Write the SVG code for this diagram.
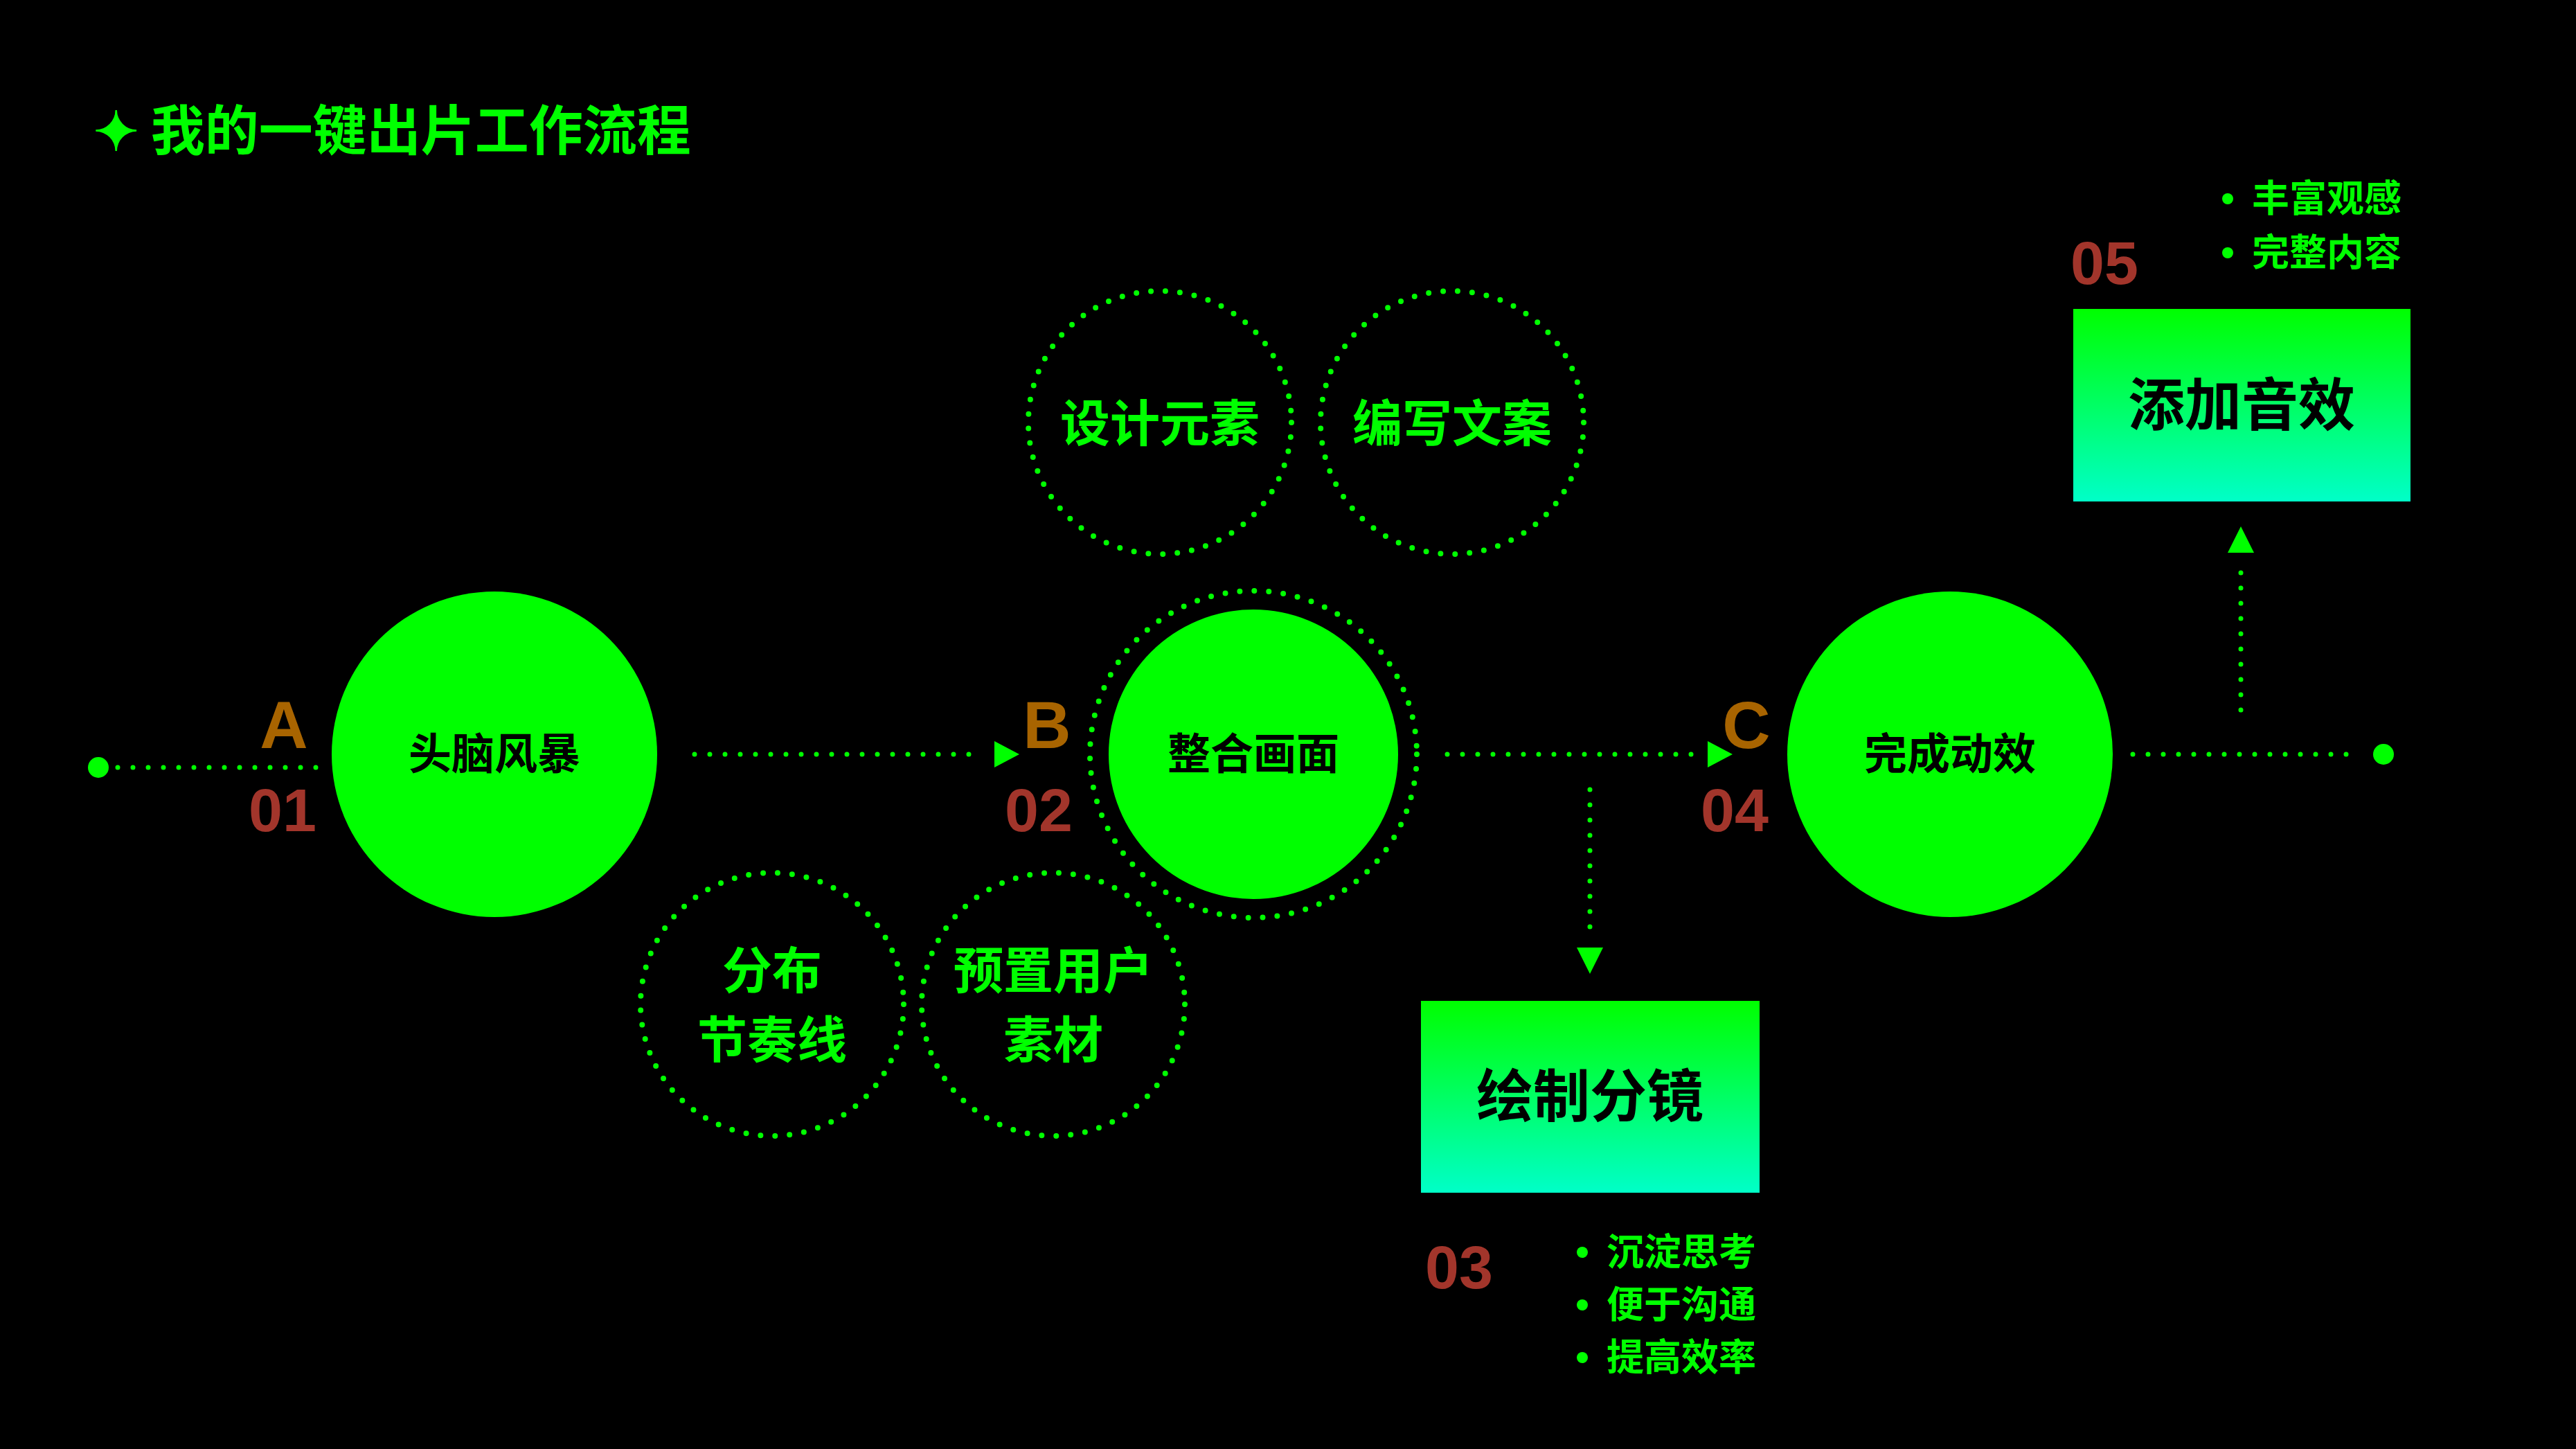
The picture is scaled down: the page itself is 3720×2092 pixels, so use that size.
<svg xmlns="http://www.w3.org/2000/svg" width="3720" height="2092" viewBox="0 0 3720 2092">
<defs>
<style>
.f{font-family:"Noto Sans CJK SC","Liberation Sans",sans-serif;font-weight:bold}
.n{font-family:"Liberation Sans",Arial,sans-serif;font-weight:bold}
.dl{stroke:#00ff00;stroke-width:7;stroke-linecap:round;stroke-dasharray:0 22;fill:none}
.dc{stroke:#00ff00;stroke-width:8;stroke-linecap:round;stroke-dasharray:0 21;fill:none}
.ct{font-size:62px;fill:#000;text-anchor:middle}
.dt{font-size:72px;fill:#00ff00;text-anchor:middle}
.bt{font-size:82px;fill:#000;text-anchor:middle}
.let{font-size:96px;fill:#a86400}
.num{font-size:88px;fill:#a2352b}
.bl{font-size:54px;fill:#00ff00}
</style>
<linearGradient id="g" x1="0" y1="0" x2="0" y2="1"><stop offset="0" stop-color="#00ff00"/><stop offset="1" stop-color="#00ffc8"/></linearGradient>
<marker id="ar" viewBox="0 0 10 10" refX="5" refY="5" markerWidth="10" markerHeight="10" markerUnits="userSpaceOnUse" orient="auto"><path d="M0,0L10,5L0,10z" fill="#00ff00"/></marker>
</defs>
<rect width="3720" height="2092" fill="#000"/>
<g id="title"><text x="135" y="217" class="f" font-size="78" fill="#00ff00">✦ 我的一键出片工作流程</text></g>
<g id="connectors">
<circle cx="142" cy="1108" r="15" fill="#00ff00"/>
<line x1="170" y1="1108" x2="465" y2="1108" class="dl"/>
<line x1="1003" y1="1089" x2="1420" y2="1089" class="dl"/>
<path d="M1436,1070L1472,1089L1436,1108z" fill="#00ff00"/>
<line x1="2090" y1="1089" x2="2450" y2="1089" class="dl"/>
<path d="M2466,1070L2502,1089L2466,1108z" fill="#00ff00"/>
<line x1="3080" y1="1089" x2="3410" y2="1089" class="dl"/>
<circle cx="3442" cy="1089" r="15" fill="#00ff00"/>
<line x1="2296" y1="1140" x2="2296" y2="1360" class="dl"/>
<path d="M2277,1368L2315,1368L2296,1406z" fill="#00ff00"/>
<line x1="3236" y1="1025" x2="3236" y2="810" class="dl"/>
<path d="M3217,798L3255,798L3236,760z" fill="#00ff00"/>
</g>
<g id="nodeA">
<circle cx="714" cy="1089" r="235" fill="#00ff00"/>
<text x="714" y="1111" class="f ct">头脑风暴</text>
<text x="410" y="1080" class="n let" text-anchor="middle">A</text>
<text x="408" y="1200" class="n num" text-anchor="middle">01</text>
</g>
<g id="nodeB">
<circle cx="1810" cy="1089" r="209" fill="#00ff00"/>
<circle cx="1810" cy="1089" r="236" class="dc"/>
<text x="1810" y="1111" class="f ct">整合画面</text>
<text x="1512" y="1080" class="n let" text-anchor="middle">B</text>
<text x="1500" y="1200" class="n num" text-anchor="middle">02</text>
</g>
<g id="design"><circle cx="1675" cy="610" r="190" class="dc"/><text x="1675" y="637" class="f dt">设计元素</text></g>
<g id="copy"><circle cx="2097" cy="610" r="190" class="dc"/><text x="2097" y="637" class="f dt">编写文案</text></g>
<g id="rhythm"><circle cx="1115" cy="1450" r="190" class="dc"/><text x="1115" y="1427" class="f dt">分布</text><text x="1115" y="1527" class="f dt">节奏线</text></g>
<g id="preset"><circle cx="1521" cy="1450" r="190" class="dc"/><text x="1521" y="1427" class="f dt">预置用户</text><text x="1521" y="1527" class="f dt">素材</text></g>
<g id="storyboard">
<rect x="2052" y="1445" width="489" height="277" fill="url(#g)"/>
<text x="2296" y="1612" class="f bt">绘制分镜</text>
<text x="2107" y="1860" class="n num" text-anchor="middle">03</text>
<circle cx="2285" cy="1808" r="8" fill="#00ff00"/><text x="2320" y="1827" class="f bl">沉淀思考</text>
<circle cx="2285" cy="1884" r="8" fill="#00ff00"/><text x="2320" y="1903" class="f bl">便于沟通</text>
<circle cx="2285" cy="1960" r="8" fill="#00ff00"/><text x="2320" y="1979" class="f bl">提高效率</text>
</g>
<g id="nodeC">
<circle cx="2816" cy="1089" r="235" fill="#00ff00"/>
<text x="2816" y="1111" class="f ct">完成动效</text>
<text x="2522" y="1080" class="n let" text-anchor="middle">C</text>
<text x="2505" y="1200" class="n num" text-anchor="middle">04</text>
</g>
<g id="sound">
<rect x="2994" y="446" width="487" height="278" fill="url(#g)"/>
<text x="3237" y="614" class="f bt">添加音效</text>
<text x="3039" y="410" class="n num" text-anchor="middle">05</text>
<circle cx="3217" cy="287" r="8" fill="#00ff00"/><text x="3252" y="306" class="f bl">丰富观感</text>
<circle cx="3217" cy="365" r="8" fill="#00ff00"/><text x="3252" y="384" class="f bl">完整内容</text>
</g>
</svg>
